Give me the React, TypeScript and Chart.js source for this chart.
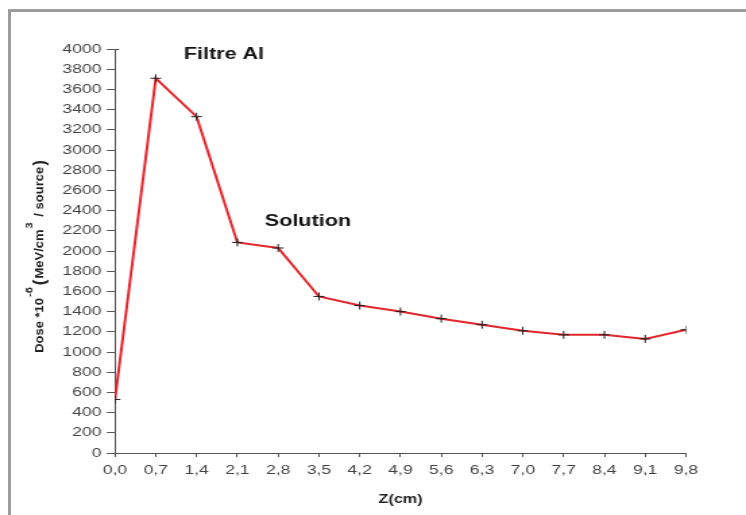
import React, { useEffect, useRef } from "react";
import { Chart, registerables } from "chart.js";

Chart.register(...registerables);

// ---- data ----
const zCm = [0, 0.7, 1.4, 2.1, 2.8, 3.5, 4.2, 4.9, 5.6, 6.3, 7.0, 7.7, 8.4, 9.1, 9.8];
const doseValues = [530, 3710, 3330, 2085, 2030, 1550, 1460, 1400, 1330, 1270, 1210, 1170, 1170, 1130, 1220];
const xTickValues = [0, 0.7, 1.4, 2.1, 2.8, 3.5, 4.2, 4.9, 5.6, 6.3, 7.0, 7.7, 8.4, 9.1, 9.8];
const yTickValues = [0, 200, 400, 600, 800, 1000, 1200, 1400, 1600, 1800, 2000, 2200, 2400, 2600, 2800, 3000, 3200, 3400, 3600, 3800, 4000];
const xAxisTitle = "Z(cm)";
const annotationTexts = ["Filtre Al", "Solution"];
const annotationZ = [1.87, 3.31];
const annotationDose = [3940, 2287];
// y-axis title pieces: [text, kind]
const yTitleTexts = ["Dose *10", "-6", "(", "MeV/cm", "3", " / source", ")"];
const yTitleKinds = ["main", "sup", "paren", "main", "sup", "main", "paren"];

// ---- layout (the reference is horizontally stretched) ----
const SCREEN_W = 746;
const SCREEN_H = 515;
const CANVAS_W = 553;
const SX = SCREEN_W / CANVAS_W;
const FONT = '"Liberation Sans", Arial, sans-serif';

const px = (screenX: number) => screenX / SX;

export default function App() {
  const ref = useRef<HTMLCanvasElement | null>(null);

  useEffect(() => {
    const canvas = ref.current;
    if (!canvas) return;

    const decor = {
      id: "decor",
      afterDraw(chart: any) {
        const ctx = chart.ctx;
        const xs = chart.scales.x;
        const ys = chart.scales.y;
        // small right tick at the top of the y axis
        ctx.save();
        ctx.strokeStyle = "#555";
        ctx.lineWidth = 1;
        const top = ys.getPixelForValue(yTickValues[yTickValues.length - 1]);
        ctx.beginPath();
        ctx.moveTo(chart.chartArea.left, Math.round(top) + 0.5);
        ctx.lineTo(chart.chartArea.left + 3, Math.round(top) + 0.5);
        ctx.stroke();
        ctx.restore();

        // annotations
        ctx.save();
        ctx.fillStyle = "#111";
        ctx.font = `bold 16px ${FONT}`;
        ctx.textAlign = "center";
        ctx.textBaseline = "middle";
        annotationTexts.forEach((t, i) => {
          ctx.fillText(t, xs.getPixelForValue(annotationZ[i]), ys.getPixelForValue(annotationDose[i]));
        });
        ctx.restore();

        // rotated y-axis title with superscripts
        ctx.save();
        const fontOf = (k: string) =>
          k === "sup" ? `bold 11px ${FONT}` : k === "paren" ? `bold 17px ${FONT}` : `bold 13px ${FONT}`;
        let total = 0;
        const widths = yTitleTexts.map((t, i) => {
          ctx.font = fontOf(yTitleKinds[i]);
          const w = ctx.measureText(t).width + (yTitleKinds[i] === "sup" ? 2 : 1);
          total += w;
          return w;
        });
        ctx.translate(px(43), 256);
        ctx.rotate(-Math.PI / 2);
        ctx.scale(1, 0.72);
        ctx.fillStyle = "#222";
        ctx.textBaseline = "alphabetic";
        ctx.textAlign = "left";
        let cx = -total / 2;
        yTitleTexts.forEach((t, i) => {
          const k = yTitleKinds[i];
          ctx.font = fontOf(k);
          const dy = k === "sup" ? -11 : k === "paren" ? 2 : 0;
          ctx.fillText(t, cx, dy);
          cx += widths[i];
        });
        ctx.restore();
      },
    };

    const chart = new Chart(canvas, {
      type: "line",
      data: {
        datasets: [
          {
            data: zCm.map((z, i) => ({ x: z, y: doseValues[i] })),
            borderColor: "#e3262d",
            borderWidth: 2,
            pointStyle: "cross",
            pointRadius: 4,
            pointBorderColor: "#222",
            pointBackgroundColor: "#222",
            pointBorderWidth: 1,
            tension: 0,
            fill: false,
          },
        ],
      },
      options: {
        responsive: false,
        animation: false,
        devicePixelRatio: 1,
        events: [],
        layout: { padding: { top: 49, right: CANVAS_W - px(686), left: 0, bottom: 0 } },
        plugins: { legend: { display: false }, tooltip: { enabled: false } },
        scales: {
          x: {
            type: "linear",
            min: 0,
            max: 9.8,
            afterBuildTicks: (s: any) => {
              s.ticks = xTickValues.map((v) => ({ value: v }));
            },
            afterFit: (s: any) => {
              s.height = SCREEN_H - 453;
            },
            grid: { drawOnChartArea: false, drawTicks: true, tickLength: 4, color: "#555" },
            border: { color: "#555", width: 1 },
            ticks: {
              autoSkip: false,
              maxRotation: 0,
              padding: 6,
              color: "#444",
              font: { family: FONT, size: 13 },
              callback: (v: any) => Number(v).toFixed(1).replace(".", ","),
            },
            title: {
              display: true,
              text: xAxisTitle,
              color: "#222",
              font: { family: FONT, size: 12, weight: "bold" },
              padding: { top: 0, bottom: 8 },
            },
          },
          y: {
            type: "linear",
            min: 0,
            max: 4000,
            afterBuildTicks: (s: any) => {
              s.ticks = yTickValues.map((v) => ({ value: v }));
            },
            afterFit: (s: any) => {
              s.width = px(115);
            },
            grid: { drawOnChartArea: false, drawTicks: true, tickLength: 6, color: "#555" },
            border: { color: "#555", width: 1 },
            ticks: {
              padding: 4,
              color: "#444",
              font: { family: FONT, size: 13 },
              callback: (v: any) => String(v),
            },
          },
        },
      },
      plugins: [decor],
    } as any);

    return () => chart.destroy();
  }, []);

  return (
    <div style={{ position: "fixed", left: 0, top: 0, width: SCREEN_W, height: SCREEN_H, background: "#fff" }}>
      <canvas
        ref={ref}
        width={CANVAS_W}
        height={SCREEN_H}
        style={{ position: "absolute", left: 0, top: 0, width: SCREEN_W, height: SCREEN_H }}
      />
      <div
        style={{
          position: "absolute",
          left: 8,
          top: 9,
          width: SCREEN_W - 8,
          height: SCREEN_H - 9,
          borderTop: "3px solid #9c9c9c",
          borderLeft: "3px solid #9c9c9c",
          boxSizing: "border-box",
          pointerEvents: "none",
        }}
      />
    </div>
  );
}
